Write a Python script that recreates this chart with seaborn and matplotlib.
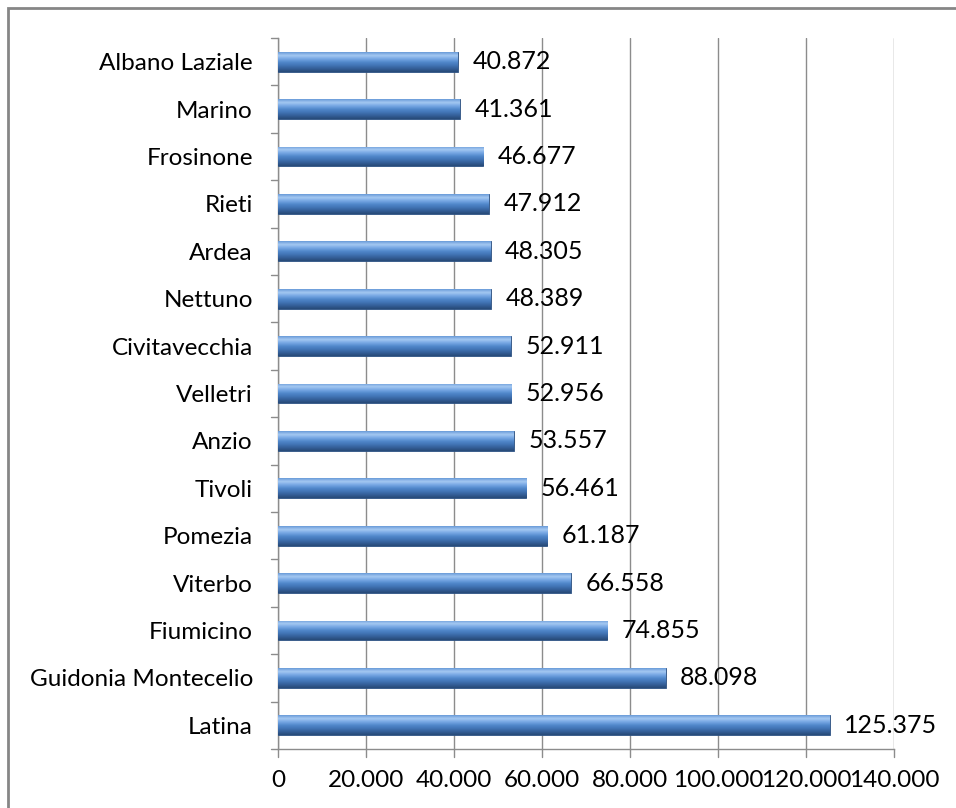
import numpy as np
import pandas as pd
import matplotlib
matplotlib.use("Agg")
import matplotlib.pyplot as plt
import seaborn as sns
from matplotlib.patches import Rectangle
from matplotlib.colors import LinearSegmentedColormap

cities = ["Albano Laziale", "Marino", "Frosinone", "Rieti", "Ardea", "Nettuno",
          "Civitavecchia", "Velletri", "Anzio", "Tivoli", "Pomezia", "Viterbo",
          "Fiumicino", "Guidonia Montecelio", "Latina"]
population = [40872, 41361, 46677, 47912, 48305, 48389, 52911, 52956, 53557,
              56461, 61187, 66558, 74855, 88098, 125375]
xticks = [0, 20000, 40000, 60000, 80000, 100000, 120000, 140000]
xtick_labels = ["0", "20.000", "40.000", "60.000", "80.000", "100.000", "120.000", "140.000"]

df = pd.DataFrame({"city": cities, "pop": population})

sns.set_theme(style="white")
plt.rcParams["font.family"] = ["Lato", "DejaVu Sans"]

W, H = 956, 808
fig = plt.figure(figsize=(W / 100, H / 100), dpi=100)
ax = fig.add_axes([278 / W, 1 - 749 / H, (894 - 278) / W, (749 - 38) / H])

sns.barplot(data=df, y="city", x="pop", orient="h", color="#4F81BD",
            width=0.42, ax=ax, zorder=3)

ax.set_xlim(0, 140000)
ax.set_ylim(len(cities) - 0.5, -0.5)
ax.set_xticks(xticks)
ax.set_xticklabels(xtick_labels, fontsize=17.5, color="black")
ax.set_ylabel("")
ax.set_xlabel("")
ax.grid(axis="x", color="#8c8c8c", linewidth=1, zorder=0)
ax.set_axisbelow(True)

# category labels
ax.set_yticks(range(len(cities)))
ax.set_yticklabels(cities, fontsize=17.5, color="black")
ax.tick_params(axis="y", length=0, pad=18)
ax.tick_params(axis="x", length=0, pad=15)
# boundary tick marks on the y axis
for b in np.arange(-0.5, len(cities), 1.0):
    ax.plot([-0.012, 0], [b, b], transform=ax.get_yaxis_transform(),
            color="#8c8c8c", lw=1, clip_on=False)
# outward tick marks on x axis
for t in xticks:
    ax.plot([t, t], [0, -0.011], transform=ax.get_xaxis_transform(),
            color="#8c8c8c", lw=1, clip_on=False)

for s in ["top", "right"]:
    ax.spines[s].set_visible(False)
for s in ["left", "bottom"]:
    ax.spines[s].set_color("#8c8c8c")
    ax.spines[s].set_linewidth(1)

# gradient shading on bars (top light -> bottom dark)
cmap = LinearSegmentedColormap.from_list(
    "bar", ["#6a9bd8", "#a4c8f2", "#78a8e4", "#5289cc", "#4275b6", "#345f98", "#274a78"])
grad = np.linspace(0, 1, 64).reshape(-1, 1)
for p in list(ax.patches):
    x0, y0 = p.get_x(), p.get_y()
    w, h = p.get_width(), p.get_height()
    im = ax.imshow(grad, cmap=cmap, aspect="auto",
                   extent=[x0, x0 + w, y0 + h, y0], origin="upper",
                   zorder=4, interpolation="bilinear")
    im.set_clip_path(p)
    p.set_edgecolor("#2a4f80")
    p.set_linewidth(0.6)
ax.set_xlim(0, 140000)
ax.set_ylim(len(cities) - 0.5, -0.5)

# value labels
for i, v in enumerate(population):
    ax.text(v + 3300, i, f"{v:,}".replace(",", "."), va="center", ha="left",
            fontsize=18, color="black", zorder=5)

# outer border
fig.add_artist(Rectangle((8 / W, -0.01), 1.0, 1 - 8 / H + 0.01, transform=fig.transFigure,
                         fill=False, edgecolor="#868686", linewidth=2))

fig.savefig("out.png", dpi=100)
